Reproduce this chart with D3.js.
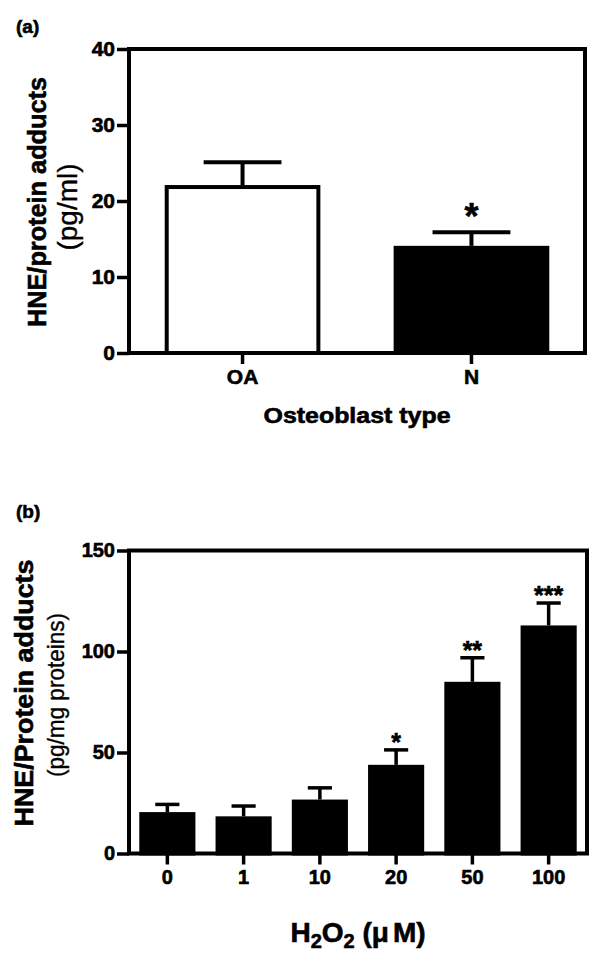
<!DOCTYPE html>
<html>
<head>
<meta charset="utf-8">
<script src="https://cdn.jsdelivr.net/npm/d3@7"></script>
<style>
  html, body { margin: 0; padding: 0; background: #fff; }
  svg { display: block; }
  text { font-family: "Liberation Sans", Arial, Helvetica, sans-serif; fill: #000; }
  text.heavy { stroke: #000; stroke-width: 0.6px; }
  text.med { stroke: #000; stroke-width: 0.35px; }
</style>
</head>
<body>
<svg id="chart" width="600" height="966"></svg>
<script>
// ---------- Data ----------
// Panel (a)
const catsA = ["OA", "N"];
const meansA = [22.1, 14.1];
const errA = [3.0, 1.8];
const starsA = ["", "*"];
const fillA = ["#fff", "#000"];
const ticksA = [0, 10, 20, 30, 40];

// Panel (b)
const catsB = ["0", "1", "10", "20", "50", "100"];
const meansB = [20.5, 18.4, 26.7, 43.9, 85.0, 112.9];
const errB = [3.8, 5.1, 5.8, 7.4, 11.9, 11.1];
const starsB = ["", "", "", "*", "**", "***"];
const ticksB = [0, 50, 100, 150];

const svg = d3.select("#chart");

function panel(cfg) {
  const g = svg.append("g");
  const x = d3.scaleBand().domain(cfg.cats).range([cfg.x0, cfg.x1])
    .paddingInner(cfg.pi).paddingOuter(cfg.po);
  const y = d3.scaleLinear().domain(cfg.domain).range([cfg.y0, cfg.y1]);
  const bw = x.bandwidth();
  const data = cfg.cats.map((c, i) => ({ c, m: cfg.means[i], e: cfg.errs[i], s: cfg.stars[i], f: cfg.fills[i] }));

  // error bars (drawn first, bar covers lower part)
  const eb = g.append("g").attr("stroke", "#000").attr("stroke-width", cfg.ebw).attr("fill", "none");
  data.forEach(d => {
    const cx = x(d.c) + bw / 2;
    eb.append("line").attr("x1", cx).attr("x2", cx).attr("y1", y(d.m)).attr("y2", y(d.m + d.e));
    eb.append("line").attr("x1", cx - bw * cfg.cap / 2).attr("x2", cx + bw * cfg.cap / 2)
      .attr("y1", y(d.m + d.e)).attr("y2", y(d.m + d.e));
  });

  // bars
  g.append("g").selectAll("rect").data(data).join("rect")
    .attr("x", d => x(d.c) + 2)
    .attr("width", bw - 4)
    .attr("y", d => y(d.m) + 2)
    .attr("height", d => y(0) - y(d.m) - 2)
    .attr("fill", d => d.f)
    .attr("stroke", "#000")
    .attr("stroke-width", 4);

  // stars
  g.append("g").selectAll("text").data(data).join("text")
    .attr("class", "heavy")
    .attr("x", d => x(d.c) + bw / 2)
    .attr("y", d => y(d.m + d.e) - cfg.starGap)
    .attr("text-anchor", "middle")
    .attr("font-weight", "bold")
    .attr("font-size", cfg.starSize)
    .text(d => d.s);

  // frame
  g.append("rect")
    .attr("x", cfg.x0).attr("y", cfg.y1)
    .attr("width", cfg.x1 - cfg.x0).attr("height", cfg.y0 - cfg.y1)
    .attr("fill", "none").attr("stroke", "#000").attr("stroke-width", 4);

  // y axis
  const ya = g.append("g").attr("transform", `translate(${cfg.x0},0)`)
    .call(d3.axisLeft(y).tickValues(cfg.ticks).tickSize(12).tickPadding(2).tickFormat(d3.format("d")));
  ya.select(".domain").remove();
  ya.selectAll(".tick line").attr("stroke", "#000").attr("stroke-width", 3.5);
  ya.selectAll(".tick text").attr("class", "heavy").attr("font-size", cfg.yTickSize).attr("font-weight", "bold")
    .attr("font-family", "'Liberation Sans', Arial, sans-serif").attr("fill", "#000");

  // x axis
  const xa = g.append("g").attr("transform", `translate(0,${cfg.y0})`)
    .call(d3.axisBottom(x).tickSize(11).tickPadding(0));
  xa.select(".domain").remove();
  xa.selectAll(".tick line").attr("stroke", "#000").attr("stroke-width", 3.5);
  xa.selectAll(".tick text").attr("class", "heavy").attr("font-size", cfg.xTickSize).attr("font-weight", "bold")
    .attr("font-family", "'Liberation Sans', Arial, sans-serif").attr("fill", "#000")
    .attr("dy", null).attr("y", cfg.xLabBase - cfg.y0);

  // y title
  cfg.ytitles.forEach(t => {
    g.append("text")
      .attr("class", t.cls)
      .attr("transform", `translate(${t.x},${t.y}) rotate(-90)`)
      .attr("text-anchor", "middle")
      .attr("font-size", t.size)
      .attr("font-weight", t.weight)
      .attr("textLength", t.len)
      .attr("lengthAdjust", "spacingAndGlyphs")
      .text(t.text);
  });

  // panel label
  g.append("text").attr("class", "heavy").attr("x", cfg.labX).attr("y", cfg.labY)
    .attr("font-size", 19).attr("font-weight", "bold").text(cfg.label);
  return { g, x, y };
}

const A = panel({
  cats: catsA, means: meansA, errs: errA, stars: starsA, fills: fillA, ticks: ticksA,
  domain: [0, 40], x0: 129, x1: 585, y0: 353, y1: 49, pi: 0.32, po: 0.156,
  ebw: 4, cap: 0.5, starGap: 3, starSize: 36, xLabBase: 384, yTickSize: 21, xTickSize: 21,
  label: "(a)", labX: 16, labY: 33,
  ytitles: [
    { text: "HNE/protein adducts", x: 46, y: 202, size: 25, weight: "bold", len: 250, cls: "heavy" },
    { text: "(pg/ml)", x: 77, y: 207, size: 27, weight: "normal", len: 87, cls: "med" }
  ]
});

A.g.append("text").attr("class", "heavy").attr("x", 357).attr("y", 423)
  .attr("text-anchor", "middle").attr("font-size", 22).attr("font-weight", "bold")
  .attr("textLength", 187).attr("lengthAdjust", "spacingAndGlyphs")
  .text("Osteoblast type");

const B = panel({
  cats: catsB, means: meansB, errs: errB, stars: starsB, fills: catsB.map(() => "#000"), ticks: ticksB,
  domain: [0, 150], x0: 129, x1: 587, y0: 853.5, y1: 550.5, pi: 0.264, po: 0.135,
  ebw: 3.5, cap: 0.43, starGap: -1, starSize: 25, xLabBase: 884, yTickSize: 20, xTickSize: 20,
  label: "(b)", labX: 16, labY: 518,
  ytitles: [
    { text: "HNE/Protein adducts", x: 33, y: 693, size: 25, weight: "bold", len: 267, cls: "heavy" },
    { text: "(pg/mg proteins)", x: 64, y: 695, size: 24, weight: "normal", len: 164, cls: "med" }
  ]
});

const xt = B.g.append("text").attr("class", "heavy").attr("x", 358).attr("y", 942)
  .attr("text-anchor", "middle").attr("font-size", 28).attr("font-weight", "bold");
xt.append("tspan").text("H");
xt.append("tspan").attr("dy", 6).attr("font-size", 20).text("2");
xt.append("tspan").attr("dy", -6).text("O");
xt.append("tspan").attr("dy", 6).attr("font-size", 20).text("2");
xt.append("tspan").attr("dy", -6).text(" (μ");
xt.append("tspan").attr("dx", 4).text("M)");
</script>
</body>
</html>
